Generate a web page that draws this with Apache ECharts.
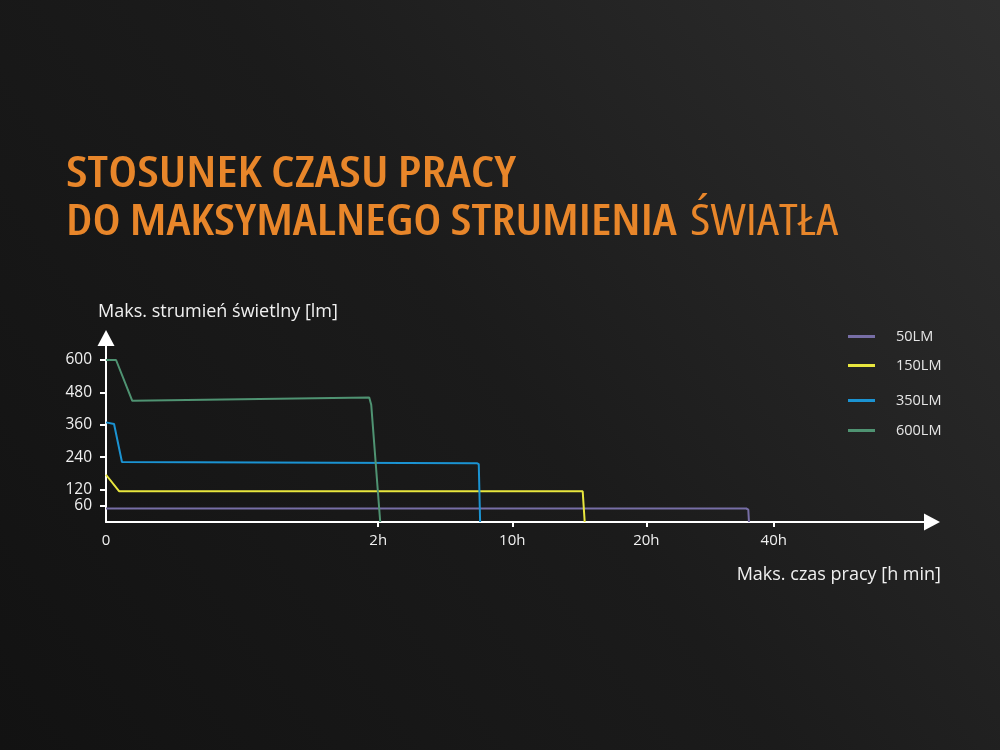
<!DOCTYPE html>
<html>
<head>
<meta charset="utf-8">
<script src="https://cdn.jsdelivr.net/npm/echarts@6/dist/echarts.min.js"></script>
<style>
html,body{margin:0;padding:0;background:#1a1a1a;}
#c{width:1000px;height:750px;}
</style>
</head>
<body>
<div id="c"></div>
<script>
// x axis is in display units (tick positions of the original non-linear time axis)
var xTickPos = [0, 2.03, 3.03, 4.03, 4.98];
var xTickLabels = ['0', '2h', '10h', '20h', '40h'];
var yTicks = [60, 120, 240, 360, 480, 600];
var seriesNames = ['50LM', '150LM', '350LM', '600LM'];
var seriesColors = ['#776ea6', '#e8e63e', '#1b93d2', '#4f9372'];
var s50 = [[0, 50], [4.775, 50], [4.79, 46], [4.795, 0]];
var s150 = [[0, 175], [0.097, 114], [3.555, 114], [3.57, 0]];
var s350 = [[0, 369], [0.06, 363], [0.119, 222], [2.765, 218], [2.78, 214], [2.79, 0]];
var s600 = [[0, 600], [0.075, 600], [0.196, 449], [1.963, 461], [1.978, 434], [2.045, 0]];
var seriesData = [s50, s150, s350, s600];
var legendCenters = [335, 364, 399, 429];

var chart = echarts.init(document.getElementById('c'));
var axisFont = '"Open Sans", "Noto Sans", sans-serif';
var titleFontB = 'condensed 600 43px "Open Sans", "Liberation Sans Narrow", sans-serif';
var titleFontL = 'condensed 400 43px "Open Sans", "Liberation Sans Narrow", sans-serif';

var option = {
  backgroundColor: {
    type: 'linear', x: 1, y: 0, x2: 0, y2: 1,
    colorStops: [{offset: 0, color: '#2e2e2e'}, {offset: 0.5, color: '#1b1b1b'}, {offset: 1, color: '#121212'}]
  },
  animation: false,
  grid: {left: 106, top: 338, right: 68, bottom: 228},
  xAxis: {
    type: 'value', min: 0, max: 6.16,
    axisLine: {show: true, onZero: false, lineStyle: {color: '#ffffff', width: 2},
      symbol: ['none', 'triangle'], symbolSize: [17, 16]},
    axisTick: {show: true, customValues: xTickPos.slice(1), length: 5, lineStyle: {color: '#ffffff', width: 2}},
    axisLabel: {customValues: xTickPos, margin: 11, color: '#f0f0f0', fontSize: 15, fontFamily: axisFont,
      formatter: function (v) { var i = xTickPos.indexOf(v); return i >= 0 ? xTickLabels[i] : ''; }},
    splitLine: {show: false}
  },
  yAxis: {
    type: 'value', min: 0, max: 681.5,
    name: 'Maks. strumień świetlny [lm]', nameLocation: 'end', nameGap: 17,
    nameTextStyle: {color: '#f0f0f0', fontSize: 18, fontFamily: axisFont, align: 'left', padding: [0, 0, 0, -8]},
    axisLine: {show: true, lineStyle: {color: '#ffffff', width: 2},
      symbol: ['none', 'triangle'], symbolSize: [17, 16]},
    axisTick: {show: true, customValues: yTicks, length: 6, lineStyle: {color: '#ffffff', width: 2}},
    axisLabel: {customValues: yTicks, margin: 14, color: '#f0f0f0', fontSize: 15.5, fontFamily: axisFont},
    splitLine: {show: false}
  },
  legend: seriesNames.map(function (n, i) {
    return {
      data: [n], left: 848, top: legendCenters[i] - 6, orient: 'vertical',
      icon: 'rect', itemWidth: 27, itemHeight: 3, padding: 0,
      textStyle: {color: '#e6e6e6', fontSize: 14.5, fontFamily: axisFont, padding: [0, 0, 0, 16]}
    };
  }),
  series: seriesNames.map(function (n, i) {
    return {
      name: n, type: 'line', data: seriesData[i], showSymbol: false, symbol: 'none',
      color: seriesColors[i], lineStyle: {width: 2, color: seriesColors[i]}, z: 2
    };
  }),
  graphic: [
    {type: 'text', x: 66, y: 153, scaleX: 1.185, style: {text: 'STOSUNEK CZASU PRACY', font: titleFontB, fill: '#e8862a', verticalAlign: 'top'}},
    {type: 'text', x: 66, y: 201, scaleX: 1.151, style: {text: 'DO MAKSYMALNEGO STRUMIENIA', font: titleFontB, fill: '#e8862a', verticalAlign: 'top'}},
    {type: 'text', x: 690, y: 201, scaleX: 1.156, style: {text: 'ŚWIATŁA', font: titleFontL, fill: '#e8862a', verticalAlign: 'top'}},
    {type: 'text', right: 59, top: 566, style: {text: 'Maks. czas pracy [h min]', fontSize: 18, fontFamily: axisFont, fill: '#f0f0f0'}}
  ]
};
chart.setOption(option);
</script>
</body>
</html>
